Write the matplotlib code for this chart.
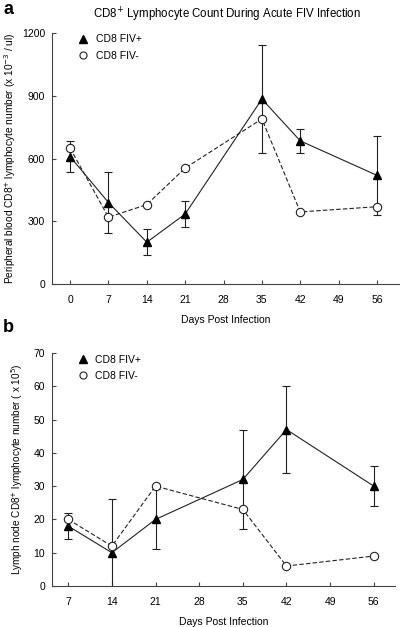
import matplotlib
matplotlib.use("Agg")
import matplotlib.pyplot as plt

plt.rcParams['font.family'] = ['Liberation Sans', 'DejaVu Sans']

# Panel a data
days_a = [0, 7, 14, 21, 35, 42, 56]
pos_a = [610, 390, 200, 335, 885, 685, 520]
pos_a_err = [75, 145, 63, 63, 260, 58, 190]
neg_a = [650, 320, 380, 555, 790, 345, 370]
xticks_a = [0, 7, 14, 21, 28, 35, 42, 49, 56]
yticks_a = [0, 300, 600, 900, 1200]

# Panel b data
days_b = [7, 14, 21, 35, 42, 56]
pos_b = [18, 10, 20, 32, 47, 30]
pos_b_err = [4, 16, 9, 15, 13, 6]
neg_b = [20, 12, 30, 23, 6, 9]
xticks_b = [7, 14, 21, 28, 35, 42, 49, 56]
yticks_b = [0, 10, 20, 30, 40, 50, 60, 70]

fig = plt.figure(figsize=(4.0, 6.27), dpi=100)
ax1 = fig.add_axes([0.13, 0.547, 0.87, 0.400])
ax2 = fig.add_axes([0.13, 0.0654, 0.8575, 0.3716])

def style(ax):
    for s in ['top', 'right']:
        ax.spines[s].set_visible(False)
    for s in ['left', 'bottom']:
        ax.spines[s].set_color('#444444')
        ax.spines[s].set_linewidth(0.8)
    ax.tick_params(axis='both', direction='in', length=3, width=0.8, color='#444444', labelsize=7.5)
    ax.tick_params(axis='x', pad=8)
    ax.tick_params(axis='y', pad=5)

def draw(ax, days, pos, err, neg):
    ax.errorbar(days, pos, yerr=err, fmt='none', ecolor='#222222', elinewidth=0.8, capsize=3, capthick=0.8, zorder=2)
    ax.plot(days, pos, '-', color='#222222', lw=0.8, marker='^', ms=6, mfc='black', mec='black', label='CD8 FIV+', zorder=3)
    ax.plot(days, neg, '--', color='#222222', lw=0.8, dashes=(4, 2), marker='o', ms=6, mfc='white', mec='#222222', mew=0.8, label='CD8 FIV-', zorder=3)
    leg = ax.legend(loc='upper left', bbox_to_anchor=(0.06, 1.02), frameon=False, fontsize=7.5, handlelength=0.8, handletextpad=0.8, labelspacing=0.6, borderaxespad=0.2, markerscale=0.85)
    for ln in leg.get_lines():
        ln.set_linestyle('none')

style(ax1)
draw(ax1, days_a, pos_a, pos_a_err, neg_a)
ax1.set_xlim(-3.3, 60.2)
ax1.set_ylim(0, 1200)
ax1.set_xticks(xticks_a)
ax1.set_yticks(yticks_a)
ax1.set_xlabel('Days Post Infection', fontsize=7.5, labelpad=7)
ax1.set_ylabel('Peripheral blood CD8$^{+}$ lymphocyte number (x 10$^{-3}$ / ul)', fontsize=7.3, labelpad=3)

style(ax2)
draw(ax2, days_b, pos_b, pos_b_err, neg_b)
ax2.set_xlim(4.4, 59.4)
ax2.set_ylim(0, 70)
ax2.set_xticks(xticks_b)
ax2.set_yticks(yticks_b)
ax2.set_xlabel('Days Post Infection', fontsize=7.5, labelpad=7)
ax2.set_ylabel('Lymph node CD8$^{+}$ lymphocyte number ( x 10$^{5}$)', fontsize=7.2, labelpad=6)

fig.text(0.568, 0.977, 'CD8$^{+}$ Lymphocyte Count During Acute FIV Infection', ha='center', va='center', fontsize=8.3)
fig.text(0.008, 0.985, 'a', fontsize=13, fontweight='bold', ha='left', va='center')
fig.text(0.008, 0.478, 'b', fontsize=13, fontweight='bold', ha='left', va='center')

fig.savefig('out.png', dpi=100)
